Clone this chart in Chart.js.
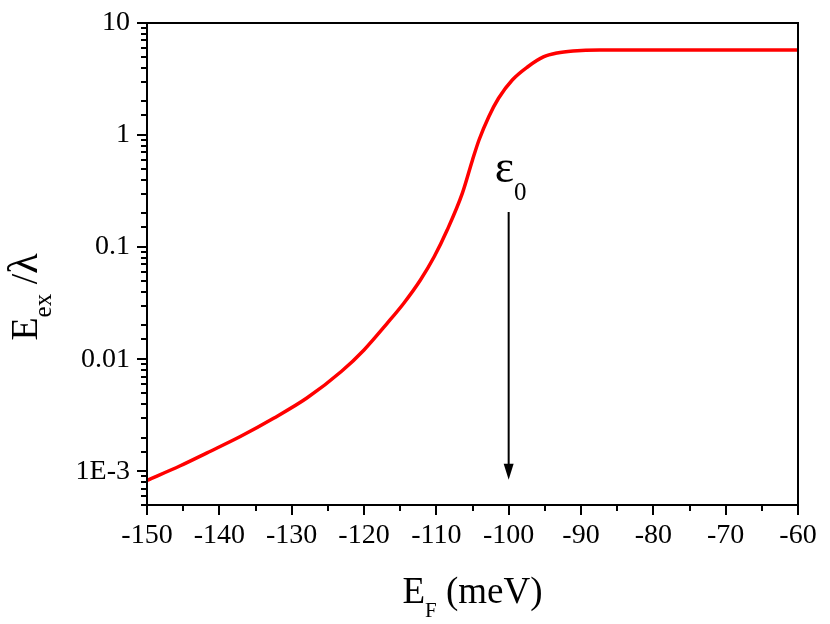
<!DOCTYPE html>
<html>
<head>
<meta charset="utf-8">
<script src="https://cdn.jsdelivr.net/npm/chart.js@4.4.1/dist/chart.umd.min.js"></script>
<style>
    html, body { margin: 0; padding: 0; background: #fff; }
</style>
</head>
<body>
<canvas id="chart" width="830" height="624"></canvas>
<script>
// DATA

const energies = [-150, -145.4, -141.7, -137.1, -132.5, -127.9, -123.1, -120, -116.8, -114.5, -112.2, -110.3, -108.5, -106.4, -105, -104.1, -102.75, -101.4, -99.5, -97.4, -95.2, -93.3, -91.1, -87.4, -80, -70, -60];
const ratios = [8.3e-4, 1.12e-3, 1.46e-3, 2.04e-3, 2.97e-3, 4.5e-3, 7.8e-3, 0.0121, 0.0209, 0.0316, 0.0509, 0.082, 0.142, 0.303, 0.60, 0.904, 1.46, 2.13, 3.10, 4.05, 4.98, 5.40, 5.62, 5.74, 5.75, 5.75, 5.75];

const xTickValues = [-150, -140, -130, -120, -110, -100, -90, -80, -70, -60];
const yTickValues = [0.001, 0.01, 0.1, 1, 10];
const yTickLabels = ["1E-3", "0.01", "0.1", "1", "10"];

// arrow marking epsilon_0
const markerEnergy = -100;
const markerTop = 0.206;
const markerTip = 8.4e-4;

const serif = '"Liberation Serif", "Times New Roman", serif';
Chart.defaults.font.family = serif;
Chart.defaults.color = "#000";

// FRAME, TICK MARKS, TITLES, ARROW

function line(ctx, x1, y1, x2, y2) {
    ctx.beginPath();
    ctx.moveTo(x1, y1);
    ctx.lineTo(x2, y2);
    ctx.stroke();
}

// draws parts like [["E", 36, 0], ["F", 20, 14]] starting at x, baseline y
function drawParts(ctx, parts, x, y) {
    parts.forEach(p => {
        ctx.font = p[1] + "px " + serif;
        ctx.fillText(p[0], x, y + p[2]);
        x += ctx.measureText(p[0]).width;
    });
}

function partsWidth(ctx, parts) {
    let w = 0;
    parts.forEach(p => {
        ctx.font = p[1] + "px " + serif;
        w += ctx.measureText(p[0]).width;
    });
    return w;
}

const decorations = {
    id: "decorations",
    afterDatasetsDraw(chart) {
        const { ctx, chartArea: a, scales: { x, y } } = chart;
        ctx.save();
        ctx.strokeStyle = "#000";
        ctx.fillStyle = "#000";
        ctx.lineWidth = 2;
        ctx.strokeRect(a.left, a.top, a.right - a.left, a.bottom - a.top);

        y.ticks.forEach(t => {
            const py = Math.round(y.getPixelForValue(t.value));
            const len = t.label ? 10 : 6;
            line(ctx, a.left - len, py, a.left, py);
        });
        x.ticks.forEach(t => {
            const px = Math.round(x.getPixelForValue(t.value));
            const len = t.label ? 10 : 6;
            line(ctx, px, a.bottom, px, a.bottom + len);
        });

        // arrow
        const ax = x.getPixelForValue(markerEnergy);
        const ay1 = y.getPixelForValue(markerTop);
        const ay2 = y.getPixelForValue(markerTip);
        line(ctx, ax, ay1, ax, ay2 - 12);
        ctx.beginPath();
        ctx.moveTo(ax - 5, ay2 - 16);
        ctx.lineTo(ax + 5, ay2 - 16);
        ctx.lineTo(ax, ay2);
        ctx.closePath();
        ctx.fill();

        ctx.textAlign = "left";
        ctx.textBaseline = "alphabetic";
        drawParts(ctx, [["ε", 46, 0], ["0", 25, 18]], ax - 14, ay1 - 30);

        // x title
        const xParts = [["E", 37, 0], ["F", 21, 14], [" (meV)", 37, 0]];
        const xw = partsWidth(ctx, xParts);
        drawParts(ctx, xParts, (a.left + a.right) / 2 - xw / 2, 603);

        // y title
        const yParts = [["E", 38, 0], ["ex", 25, 14], [" /", 38, 0], ["λ", 42, 0]];
        const yw = partsWidth(ctx, yParts);
        ctx.translate(37, 297);
        ctx.rotate(-Math.PI / 2);
        drawParts(ctx, yParts, -yw / 2, 0);

        ctx.restore();
    }
};

// CHART

new Chart(document.getElementById("chart"), {
    type: "line",
    data: {
        datasets: [{
            data: energies.map((e, i) => ({ x: e, y: ratios[i] })),
            borderColor: "#ff0000",
            borderWidth: 3.5,
            pointRadius: 0,
            cubicInterpolationMode: "monotone",
            fill: false
        }]
    },
    options: {
        responsive: false,
        animation: false,
        layout: { padding: { top: 23, right: 32, left: 0, bottom: 0 } },
        plugins: { legend: { display: false }, tooltip: { enabled: false } },
        scales: {
            x: {
                type: "linear",
                min: -150,
                max: -60,
                grid: { display: false, drawTicks: false },
                border: { display: false },
                afterFit: s => { s.height = 119; s.paddingLeft = 0; s.paddingRight = 0; },
                ticks: {
                    stepSize: 5,
                    autoSkip: false,
                    maxRotation: 0,
                    padding: 14,
                    font: { size: 28 },
                    callback: v => xTickValues.includes(v) ? String(v) : ""
                }
            },
            y: {
                type: "logarithmic",
                min: 5e-4,
                max: 10,
                grid: { display: false, drawTicks: false },
                border: { display: false },
                afterFit: s => { s.width = 147; s.paddingTop = 0; s.paddingBottom = 0; },
                ticks: {
                    autoSkip: false,
                    padding: 17,
                    font: { size: 28 },
                    callback: v => {
                        const i = yTickValues.findIndex(t => Math.abs(t - v) / t < 1e-6);
                        return i >= 0 ? yTickLabels[i] : "";
                    }
                }
            }
        }
    },
    plugins: [decorations]
});
</script>
</body>
</html>
